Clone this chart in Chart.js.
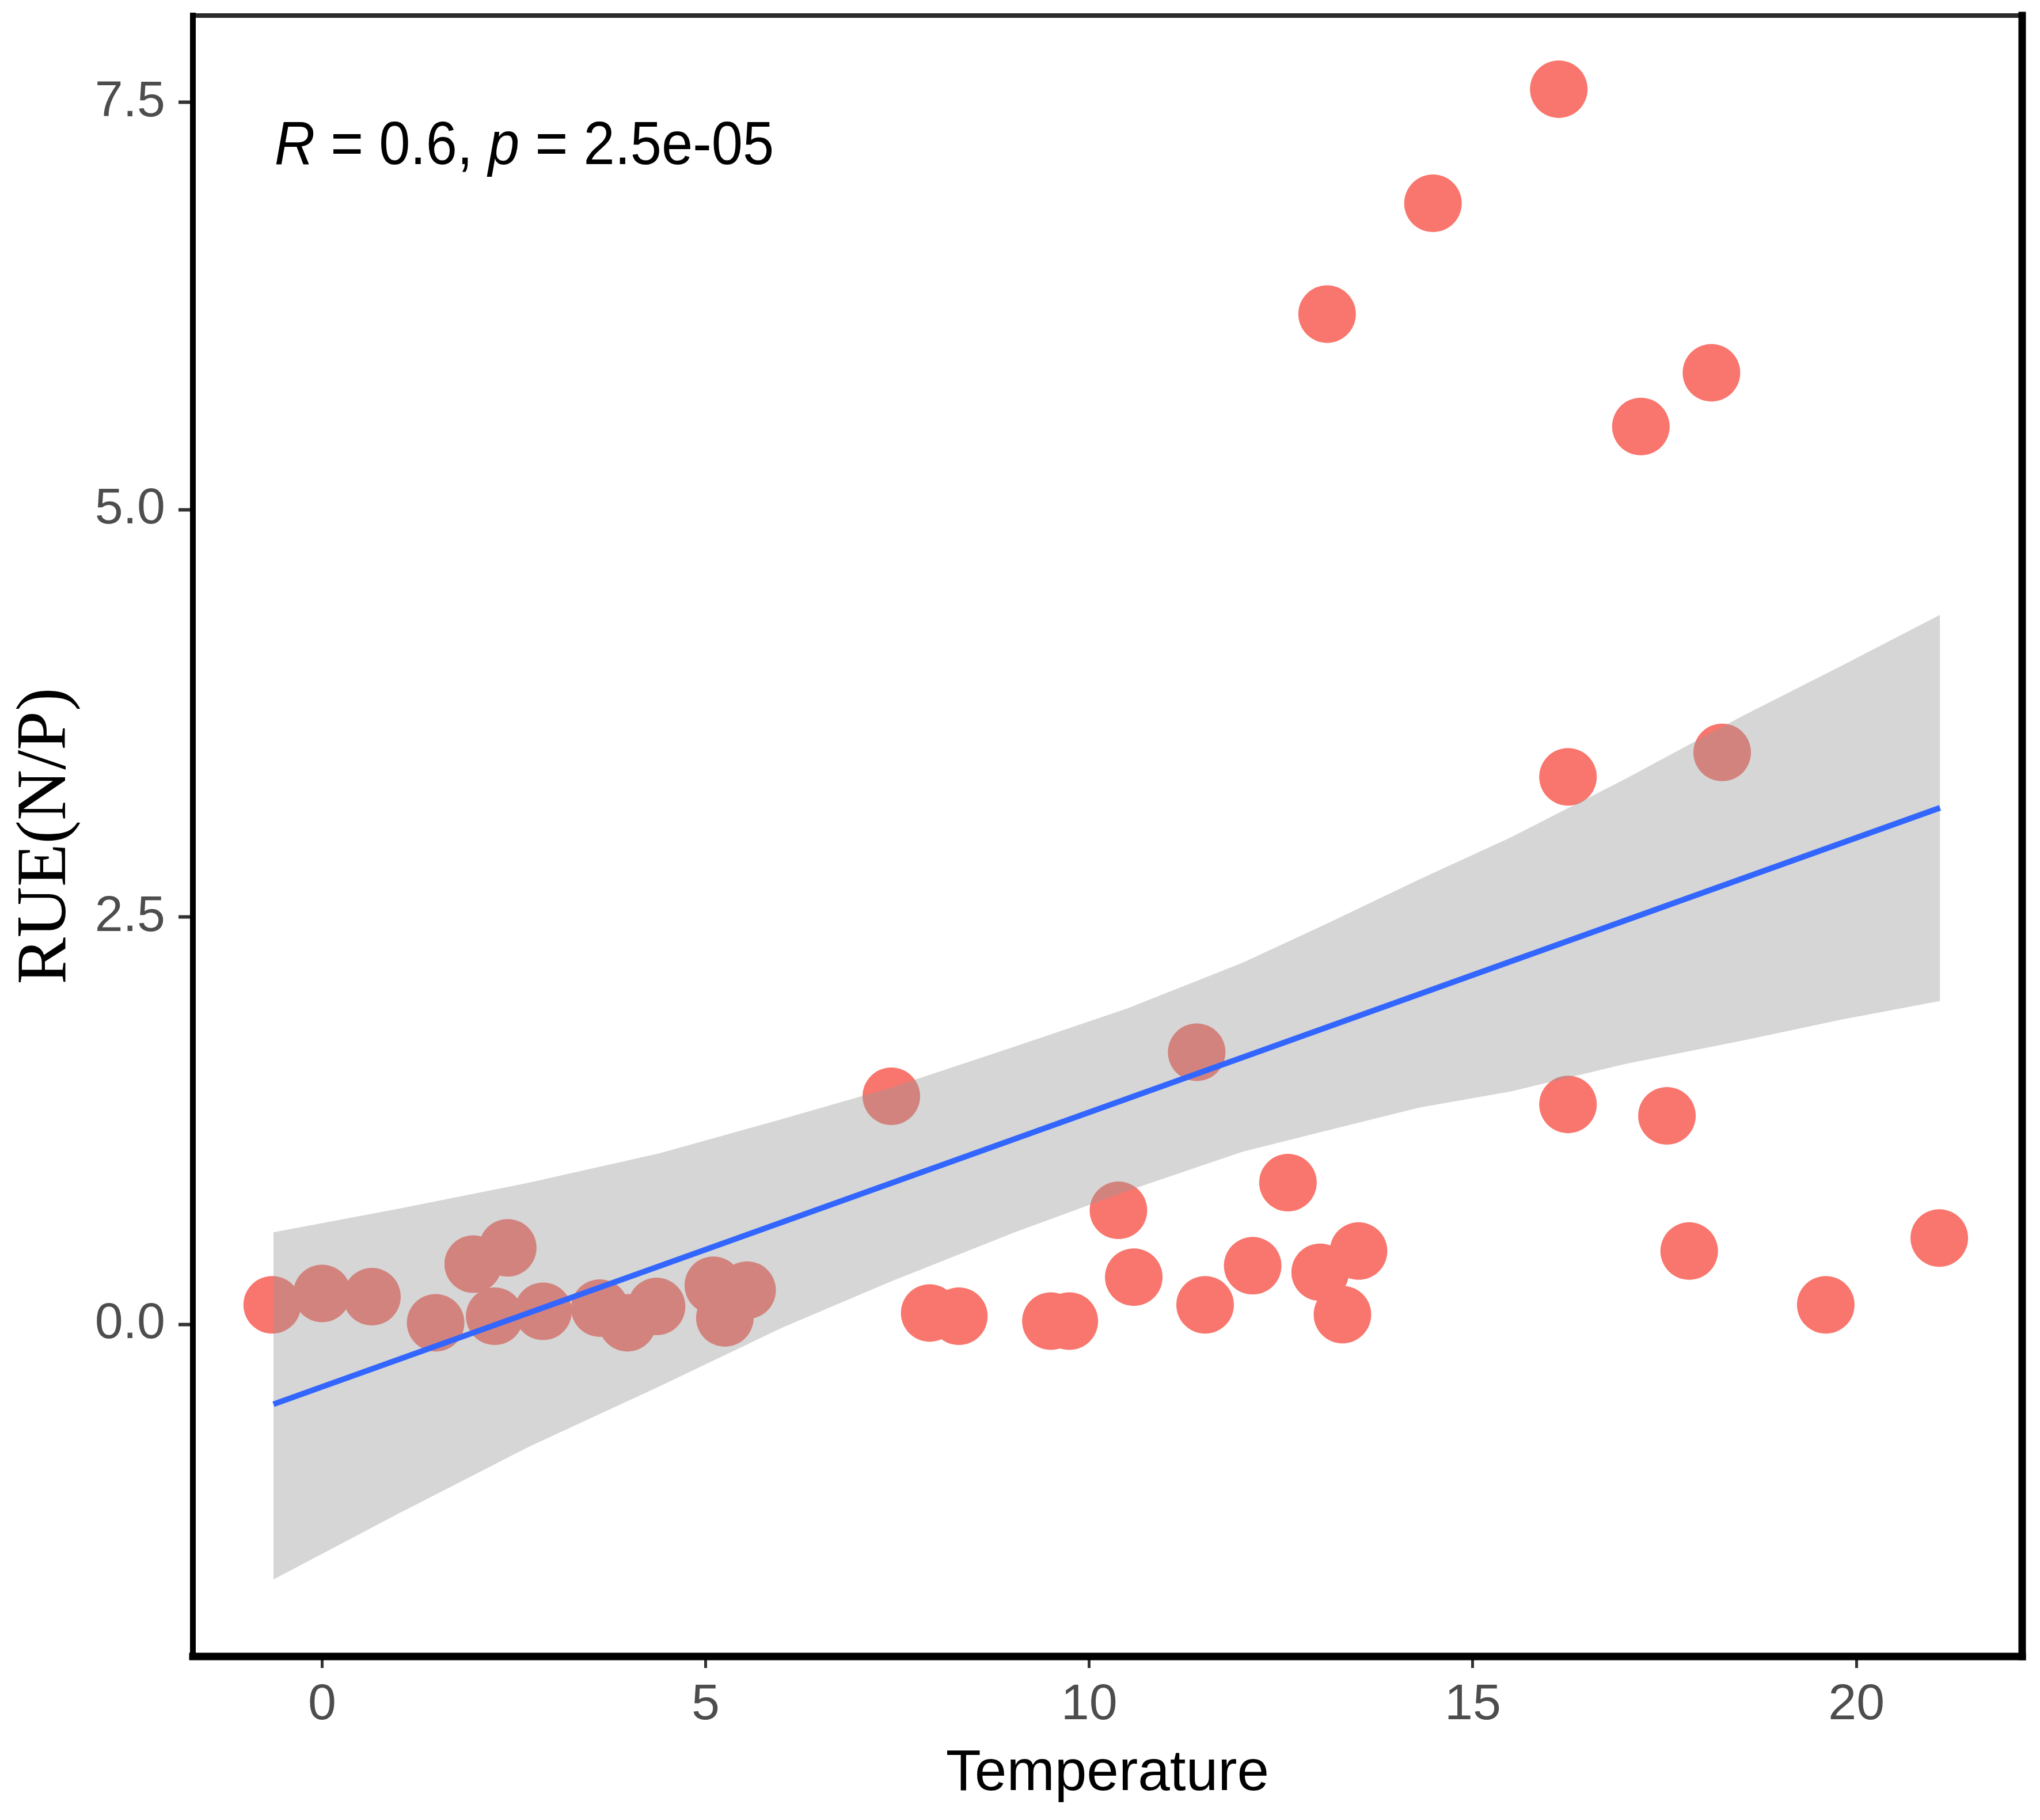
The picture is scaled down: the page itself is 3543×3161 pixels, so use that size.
<!DOCTYPE html>
<html>
<head>
<meta charset="utf-8">
<title>RUE(N/P) vs Temperature</title>
<script src="https://cdn.jsdelivr.net/npm/chart.js@4.4.1/dist/chart.umd.min.js"></script>
<style>
  html, body { margin: 0; padding: 0; background: #fff; }
  #wrap { width: 3543px; height: 3161px; }
</style>
</head>
<body>
<div id="wrap"><canvas id="chart"></canvas></div>
<script>
const temperature = [-0.65, 0.00, 0.65, 1.48, 1.97, 2.42, 2.25, 2.88, 3.62, 3.98,
  4.36, 5.10, 5.54, 5.25, 7.42, 7.92, 8.30, 9.50, 9.74, 10.38,
  10.58, 11.40, 11.51, 12.13, 12.59, 13.01, 13.10, 13.30, 13.51, 14.48,
  16.12, 16.24, 16.24, 17.19, 17.53, 17.82, 18.11, 18.25, 19.60, 21.08];
const rue = [0.12, 0.19, 0.17, 0.01, 0.37, 0.47, 0.05, 0.08, 0.10, 0.01,
  0.11, 0.24, 0.21, 0.04, 1.40, 0.07, 0.05, 0.02, 0.02, 0.70,
  0.29, 1.67, 0.12, 0.36, 0.87, 0.32, 6.20, 0.06, 0.45, 6.88,
  7.58, 3.36, 1.35, 5.51, 1.28, 0.45, 5.84, 3.51, 0.12, 0.53];

// fitted line and its confidence band
const fitX = [-0.634, 21.09];
const fitY = [-0.49, 3.17];
const bandX = [-0.634, 1.0, 2.7, 4.4, 6.0, 7.4, 9.0, 10.5, 12.0, 13.1, 14.3, 15.5, 17.0, 18.5, 19.8, 21.09];
const bandUpper = [0.565, 0.71, 0.87, 1.05, 1.26, 1.45, 1.70, 1.94, 2.22, 2.46, 2.73, 2.99, 3.35, 3.73, 4.04, 4.355];
const bandLower = [-1.565, -1.16, -0.75, -0.38, -0.02, 0.26, 0.56, 0.82, 1.06, 1.19, 1.33, 1.43, 1.60, 1.74, 1.87, 1.985];

const xTicks = [0, 5, 10, 15, 20];
const xTickLabels = ['0', '5', '10', '15', '20'];
const yTicks = [0, 2.5, 5, 7.5];
const yTickLabels = ['0.0', '2.5', '5.0', '7.5'];

const toXY = (xs, ys) => xs.map((x, i) => ({ x: x, y: ys[i] }));

// panel box: thin top, heavier left, heavy bottom and right
const framePlugin = {
  id: 'frame',
  afterDatasetsDraw(chart) {
    const { ctx, chartArea: a } = chart;
    const seg = (x1, y1, x2, y2, w, c) => {
      ctx.beginPath();
      ctx.lineWidth = w;
      ctx.strokeStyle = c;
      ctx.moveTo(x1, y1);
      ctx.lineTo(x2, y2);
      ctx.stroke();
    };
    ctx.save();
    ctx.lineCap = 'square';
    seg(a.left, a.top, a.right, a.top, 8, '#2b2b2b');
    seg(a.left, a.top, a.left, a.bottom, 10, '#000');
    seg(a.left, a.bottom, a.right, a.bottom, 13, '#000');
    seg(a.right, a.top, a.right, a.bottom, 13, '#000');
    ctx.restore();
  }
};

// "R = 0.6, p = 2.5e-05" with italic R and p
const statsPlugin = {
  id: 'stats',
  afterDraw(chart, args, opts) {
    const ctx = chart.ctx;
    const x0 = chart.scales.x.getPixelForValue(opts.x);
    const y0 = chart.scales.y.getPixelForValue(opts.y);
    const parts = [['R', true], [' = 0.6, ', false], ['p', true], [' = 2.5e-05', false]];
    ctx.save();
    ctx.translate(x0, y0);
    ctx.scale(0.92, 1);
    ctx.fillStyle = '#000';
    ctx.textBaseline = 'alphabetic';
    ctx.textAlign = 'left';
    let x = 0;
    parts.forEach(([txt, it]) => {
      ctx.font = (it ? 'italic ' : '') + '106px "Liberation Sans", Arial, sans-serif';
      ctx.fillText(txt, x, 0);
      x += ctx.measureText(txt).width;
    });
    ctx.restore();
  }
};

new Chart(document.getElementById('chart'), {
  type: 'scatter',
  data: {
    datasets: [
      {
        label: 'fit',
        data: toXY(fitX, fitY),
        showLine: true,
        borderColor: '#3366FF',
        borderWidth: 10,
        pointRadius: 0,
        fill: false,
        order: 1
      },
      {
        label: 'upper',
        data: toXY(bandX, bandUpper),
        showLine: true,
        borderColor: 'rgba(0,0,0,0)',
        borderWidth: 1,
        pointRadius: 0,
        fill: '+1',
        backgroundColor: 'rgba(153,153,153,0.4)',
        order: 2
      },
      {
        label: 'lower',
        data: toXY(bandX, bandLower),
        showLine: true,
        borderColor: 'rgba(0,0,0,0)',
        borderWidth: 1,
        pointRadius: 0,
        fill: false,
        order: 2
      },
      {
        label: 'RUE',
        data: toXY(temperature, rue),
        backgroundColor: '#F8766D',
        borderWidth: 0,
        pointRadius: 50,
        pointHoverRadius: 50,
        order: 3
      }
    ]
  },
  options: {
    responsive: true,
    maintainAspectRatio: false,
    animation: false,
    devicePixelRatio: 1,
    layout: { autoPadding: false, padding: { left: 0, top: 27, right: 31, bottom: 0 } },
    plugins: {
      legend: { display: false },
      tooltip: { enabled: false },
      stats: { x: -0.62, y: 7.12 }
    },
    scales: {
      x: {
        type: 'linear',
        min: -1.684,
        max: 22.16,
        afterBuildTicks: s => { s.ticks = xTicks.map(v => ({ value: v })); },
        afterFit: s => { s.height = 284; s.paddingLeft = 0; s.paddingRight = 0; },
        border: { display: false },
        grid: { drawOnChartArea: false, drawTicks: true, tickLength: 20, tickWidth: 5, tickColor: '#333' },
        ticks: {
          callback: (v, i) => xTickLabels[i],
          color: '#4D4D4D',
          font: { family: 'Liberation Sans', size: 88 },
          padding: 12,
          maxRotation: 0,
          autoSkip: false
        },
        title: {
          display: true,
          text: 'Temperature',
          color: '#000',
          font: { family: 'Liberation Sans', size: 100 },
          padding: { top: 0, bottom: 20 }
        }
      },
      y: {
        type: 'linear',
        min: -2.038,
        max: 8.032,
        afterBuildTicks: s => { s.ticks = yTicks.map(v => ({ value: v })); },
        afterFit: s => { s.width = 335; s.paddingTop = 0; s.paddingBottom = 0; },
        border: { display: false },
        grid: { drawOnChartArea: false, drawTicks: true, tickLength: 25, tickWidth: 6, tickColor: '#333' },
        ticks: {
          callback: (v, i) => yTickLabels[i],
          color: '#4D4D4D',
          font: { family: 'Liberation Sans', size: 88 },
          padding: 23,
          autoSkip: false
        },
        title: {
          display: true,
          text: 'RUE(N/P)',
          color: '#000',
          font: { family: 'Liberation Serif', size: 122 },
          padding: { top: 8, bottom: 0 }
        }
      }
    }
  },
  plugins: [framePlugin, statsPlugin]
});
</script>
</body>
</html>
